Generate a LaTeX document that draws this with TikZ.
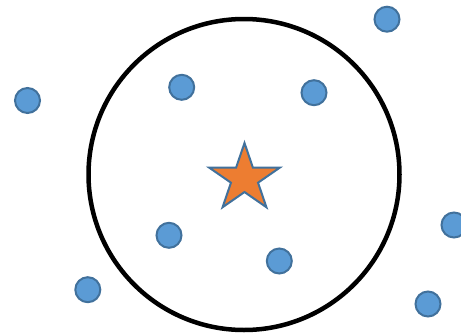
\documentclass[tikz,border=0pt]{standalone}
\usetikzlibrary{shapes.geometric}
\definecolor{dotfill}{RGB}{91,155,213}
\definecolor{dotline}{RGB}{65,113,156}
\definecolor{starfill}{RGB}{237,125,49}
\begin{document}
\begin{tikzpicture}[x=1pt,y=-1pt,
  dotnode/.style={circle,draw=dotline,fill=dotfill,line width=2pt,minimum size=25pt,inner sep=0pt},
  ring/.style={circle,draw=black,line width=4.5pt,minimum size=311pt,inner sep=0pt},
  starnode/.style={star,star points=5,star point ratio=2.618,draw=dotline,fill=starfill,line width=2pt,minimum size=71pt,inner sep=0pt,xscale=1.05,transform shape}]
\useasboundingbox (0,0) rectangle (461,335);
\fill[white] (0,0) rectangle (461,335);
\node[ring] (ring) at (244,174.5) {};
\node[starnode] (star) at (244.5,178.5) {};
\node[dotnode] (d1) at (27.5,100.5) {};
\node[dotnode] (d2) at (181.7,87.3) {};
\node[dotnode] (d3) at (314,92.7) {};
\node[dotnode] (d4) at (387,19.2) {};
\node[dotnode] (d5) at (169,235.3) {};
\node[dotnode] (d6) at (279.3,261) {};
\node[dotnode] (d7) at (87.8,289.7) {};
\node[dotnode] (d8) at (454,225) {};
\node[dotnode] (d9) at (428,304) {};
\end{tikzpicture}
\end{document}
